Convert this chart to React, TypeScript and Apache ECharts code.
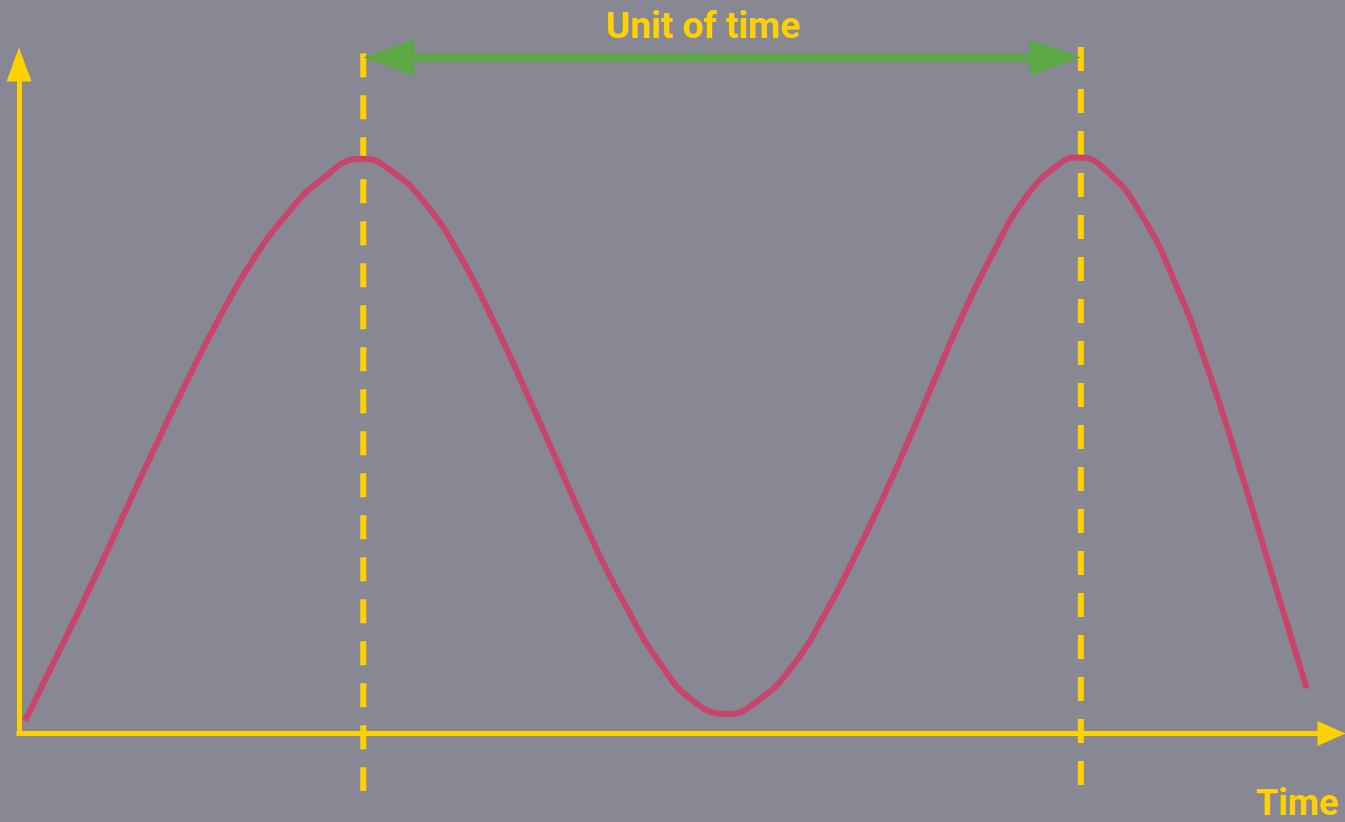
import { useEffect, useRef } from "react";
import * as echarts from "echarts";

// Wave sampled along the time axis (both axes run 0–100)
const waveTime = [
  0.46, 2.59, 5.16, 7.7, 10.21, 12.78, 15.31, 17.83, 20.4, 22.93, 26.1, 28.5,
  31.09, 33.6, 36.11, 38.7, 41.22, 43.73, 46.32, 48.84, 51.35, 53.94, 56.3,
  58.9, 61.41, 63.92, 66.51, 69.03, 71.54, 74.13, 76.65, 79.16, 80.7, 82.97,
  85.56, 88.08, 90.59, 93.18, 95.7, 98.11,
];
const waveValue = [
  1.87, 10.4, 20.8, 31.5, 42.2, 52.6, 62.3, 70.8, 77.6, 82.6, 85.9, 83.9, 78.9,
  71.4, 61.8, 50.8, 39.7, 28.7, 18.7, 10.5, 4.9, 2.91, 4.9, 10.0, 17.9, 27.4,
  38.2, 49.5, 61.0, 71.5, 80.0, 85.0, 86.1, 83.9, 77.4, 67.4, 54.4, 38.6, 22.2,
  6.8,
];

// Two successive crests, one unit of time apart
const periodMarks = [26.23, 80.9];
const periodMarkTop = [101.7, 102.6];
const periodMarkBottom = [-8.6, -7.7];
const spanLevel = 101.05;

const spanLabel = "Unit of time";
const axisLabel = "Time";

const W = 1345;
const H = 822;
const GRID = { left: 19, right: 13.5, top: 64.5, bottom: 88.5 };

const BG = "#878893";
const YELLOW = "#FFD100";
const WAVE = "#C8446B";
const GREEN = "#5BA845";

export default function App() {
  const ref = useRef<HTMLDivElement>(null);

  useEffect(() => {
    if (!ref.current) return;
    const chart = echarts.init(ref.current, undefined, { renderer: "svg" });

    const pxPerX = (W - GRID.left - GRID.right) / 100;
    const headLen = 51;
    const headHalf = headLen / 2 / pxPerX;

    const axisCommon = {
      type: "value" as const,
      min: 0,
      max: 100,
      axisTick: { show: false },
      axisLabel: { show: false },
      splitLine: { show: false },
    };

    chart.setOption({
      animation: false,
      backgroundColor: BG,
      grid: { ...GRID, containLabel: false },
      xAxis: {
        ...axisCommon,
        axisLine: {
          show: true,
          symbol: ["none", "triangle"],
          symbolSize: [25, 28],
          lineStyle: { color: YELLOW, width: 5, cap: "square" },
        },
      },
      yAxis: {
        ...axisCommon,
        axisLine: {
          show: true,
          symbol: ["none", "triangle"],
          symbolSize: [25, 34],
          lineStyle: { color: YELLOW, width: 5, cap: "square" },
        },
      },
      series: [
        ...periodMarks.map((x, i) => ({
          type: "line",
          clip: false,
          silent: true,
          showSymbol: false,
          symbol: "none",
          z: 2,
          data: [
            [x, periodMarkTop[i]],
            [x, periodMarkBottom[i]],
          ],
          lineStyle: { color: YELLOW, width: 6, type: [24, 18], dashOffset: 0 },
        })),
        {
          type: "line",
          clip: false,
          silent: true,
          z: 3,
          symbol: "triangle",
          symbolSize: [36, headLen],
          itemStyle: { color: GREEN },
          data: [
            { value: [periodMarks[0] + headHalf, spanLevel], symbolRotate: 90 },
            { value: [periodMarks[1] - headHalf, spanLevel], symbolRotate: -90 },
          ],
          lineStyle: { color: GREEN, width: 8 },
        },
        {
          type: "line",
          clip: false,
          silent: true,
          z: 4,
          smooth: 0.5,
          showSymbol: false,
          symbol: "none",
          data: waveTime.map((t, i) => [t, waveValue[i]]),
          lineStyle: { color: WAVE, width: 6 },
        },
      ],
      graphic: [
        {
          type: "text",
          x: 703,
          y: 25,
          style: {
            text: spanLabel,
            fill: YELLOW,
            font: "bold 37px Roboto",
            align: "center",
            verticalAlign: "middle",
          },
        },
        {
          type: "text",
          x: 1256,
          y: 803,
          style: {
            text: axisLabel,
            fill: YELLOW,
            font: "bold 36px Roboto",
            align: "left",
            verticalAlign: "middle",
          },
        },
      ],
    });

    return () => chart.dispose();
  }, []);

  return (
    <div
      ref={ref}
      style={{ position: "absolute", left: 0, top: 0, width: W, height: H }}
    />
  );
}
